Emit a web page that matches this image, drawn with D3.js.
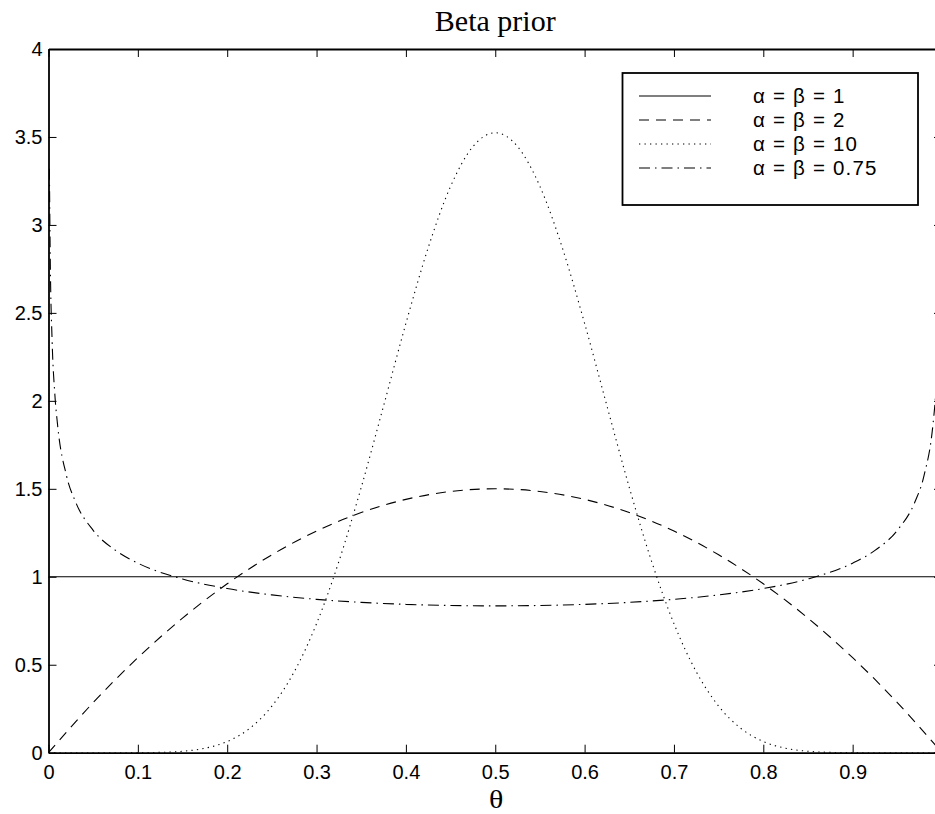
<!DOCTYPE html>
<html>
<head>
<meta charset="utf-8">
<script src="https://cdn.jsdelivr.net/npm/d3@7"></script>
<style>
  html, body { margin: 0; padding: 0; background: #fff; }
  svg { display: block; }
</style>
</head>
<body>
<svg id="chart" width="935" height="814"></svg>
<script>
// ---- data ----
const xTicks = [0, 0.1, 0.2, 0.3, 0.4, 0.5, 0.6, 0.7, 0.8, 0.9];
const xTickLabels = ["0", "0.1", "0.2", "0.3", "0.4", "0.5", "0.6", "0.7", "0.8", "0.9"];
const yTicks = [0, 0.5, 1, 1.5, 2, 2.5, 3, 3.5, 4];
const yTickLabels = ["0", "0.5", "1", "1.5", "2", "2.5", "3", "3.5", "4"];

const legendLabels = ["α = β = 1", "α = β = 2", "α = β = 10", "α = β = 0.75"];

// alpha = beta = 1
const theta1 = [0, 1];
const dens1 = [1, 1];

// alpha = beta = 2
const theta2 = [0, 0.05, 0.1, 0.15, 0.2, 0.25, 0.3, 0.35, 0.4, 0.45, 0.5,
                0.55, 0.6, 0.65, 0.7, 0.75, 0.8, 0.85, 0.9, 0.95, 1];
const dens2 = [0, 0.285, 0.54, 0.765, 0.96, 1.125, 1.26, 1.365, 1.44, 1.485, 1.5,
               1.485, 1.44, 1.365, 1.26, 1.125, 0.96, 0.765, 0.54, 0.285, 0];

// alpha = beta = 10
const theta3 = [0, 0.05, 0.075, 0.1, 0.125, 0.15, 0.175, 0.2, 0.225, 0.25, 0.275, 0.3,
                0.325, 0.35, 0.375, 0.4, 0.425, 0.45, 0.475, 0.5,
                0.525, 0.55, 0.575, 0.6, 0.625, 0.65, 0.675, 0.7, 0.725, 0.75,
                0.775, 0.8, 0.825, 0.85, 0.875, 0.9, 0.925, 0.95, 1];
const dens3 = [0, 0, 0.00003, 0.00036, 0.0021, 0.0082, 0.0252, 0.0635, 0.1377, 0.2646, 0.4599, 0.7336,
               1.087, 1.5079, 1.9713, 2.4402, 2.8711, 3.2191, 3.4452, 3.5239,
               3.4452, 3.2191, 2.8711, 2.4402, 1.9713, 1.5079, 1.087, 0.7336, 0.4599, 0.2646,
               0.1377, 0.0635, 0.0252, 0.0082, 0.0021, 0.00036, 0.00003, 0, 0];

// alpha = beta = 0.75
const theta4 = [0.001, 0.002, 0.004, 0.007, 0.01, 0.02, 0.03, 0.05, 0.075, 0.1, 0.15, 0.2,
                0.25, 0.3, 0.35, 0.4, 0.45, 0.5, 0.55, 0.6, 0.65, 0.7, 0.75, 0.8,
                0.85, 0.9, 0.925, 0.95, 0.97, 0.98, 0.99, 0.993, 0.996, 0.998, 0.999];
const dens4 = [3.3196, 2.7921, 2.349, 2.0439, 1.871, 1.5773, 1.4289, 1.2642, 1.15, 1.0775, 0.9876, 0.9331,
               0.8969, 0.8718, 0.8545, 0.8432, 0.8367, 0.8346, 0.8367, 0.8432, 0.8545, 0.8718, 0.8969, 0.9331,
               0.9876, 1.0775, 1.15, 1.2642, 1.4289, 1.5773, 1.871, 2.0439, 2.349, 2.7921, 3.3196];

const seriesTheta = [theta1, theta2, theta3, theta4];
const seriesDens = [dens1, dens2, dens3, dens4];
const seriesDash = ["none", "10,7", "1.3,4.2", "11,5,1.5,5"];

// ---- layout ----
const svg = d3.select("#chart");
const L = 48.5, R = 942, T = 49, B = 752.7;

const x = d3.scaleLinear().domain([0, 1]).range([L, R]);
const y = d3.scaleLinear().domain([0, 4]).range([B, T]);

svg.append("defs").append("clipPath").attr("id", "clip")
  .append("rect").attr("x", L).attr("y", T).attr("width", R - L).attr("height", B - T);

// curves
const plot = svg.append("g").attr("clip-path", "url(#clip)");
seriesTheta.forEach((th, i) => {
  const pts = th.map((t, j) => [t, seriesDens[i][j]]);
  plot.append("path")
    .datum(pts)
    .attr("fill", "none")
    .attr("stroke", "#000")
    .attr("stroke-width", 1.1)
    .attr("stroke-dasharray", seriesDash[i])
    .attr("d", d3.line().x(d => x(d[0])).y(d => y(d[1])).curve(d3.curveMonotoneX));
});

// axes
const font = "'Liberation Sans', Arial, Helvetica, sans-serif";
const xAxis = d3.axisBottom(x).tickValues(xTicks)
  .tickFormat((d, i) => xTickLabels[i]).tickSizeInner(-8).tickSizeOuter(0).tickPadding(12);
const gx = svg.append("g").attr("transform", `translate(0,${B})`).call(xAxis);
gx.select(".domain").attr("stroke-width", 1.8);
gx.selectAll(".tick line").attr("stroke-width", 1);
gx.selectAll(".tick text").attr("font-family", font).attr("font-size", 20).attr("fill", "#000");

const xAxisTop = d3.axisTop(x).tickValues(xTicks).tickFormat("").tickSizeInner(-8).tickSizeOuter(0);
const gxt = svg.append("g").attr("transform", `translate(0,${T})`).call(xAxisTop);
gxt.select(".domain").attr("stroke-width", 1.8);

const yAxis = d3.axisLeft(y).tickValues(yTicks)
  .tickFormat((d, i) => yTickLabels[i]).tickSizeInner(-8).tickSizeOuter(0).tickPadding(6);
const gy = svg.append("g").attr("transform", `translate(${L},0)`).call(yAxis);
gy.select(".domain").attr("stroke-width", 1.8);
gy.selectAll(".tick text").attr("font-family", font).attr("font-size", 20).attr("fill", "#000");

const yAxisRight = d3.axisRight(y).tickValues(yTicks).tickFormat("").tickSizeInner(-8).tickSizeOuter(0);
svg.append("g").attr("transform", `translate(${R},0)`).call(yAxisRight)
  .select(".domain").attr("stroke-width", 1.8);

// title and label
svg.append("text").attr("x", (L + R) / 2).attr("y", 31).attr("text-anchor", "middle")
  .attr("font-family", "'Liberation Serif', 'Times New Roman', serif").attr("font-size", 30)
  .text("Beta prior");
svg.append("text").attr("x", (L + R) / 2 + 1).attr("y", 808).attr("text-anchor", "middle")
  .attr("font-family", "'Liberation Serif', 'Times New Roman', serif").attr("font-size", 26)
  .attr("transform", "translate(496,808) scale(1.15,1) translate(-496,-808)")
  .text("θ");

// legend
const lg = svg.append("g");
lg.append("rect").attr("x", 622.5).attr("y", 73).attr("width", 295.5).attr("height", 132)
  .attr("fill", "#fff").attr("stroke", "#000").attr("stroke-width", 1.8);
const rowY = d3.scaleLinear().domain([0, 3]).range([96, 168]);
legendLabels.forEach((lab, i) => {
  lg.append("line").attr("x1", 639).attr("x2", 711).attr("y1", rowY(i)).attr("y2", rowY(i))
    .attr("stroke", "#000").attr("stroke-width", 1.1).attr("stroke-dasharray", seriesDash[i]);
  lg.append("text").attr("x", 753).attr("y", rowY(i)).attr("dy", "0.36em")
    .attr("font-family", font).attr("font-size", 20.5).attr("letter-spacing", 1.2).text(lab);
});
</script>
</body>
</html>
